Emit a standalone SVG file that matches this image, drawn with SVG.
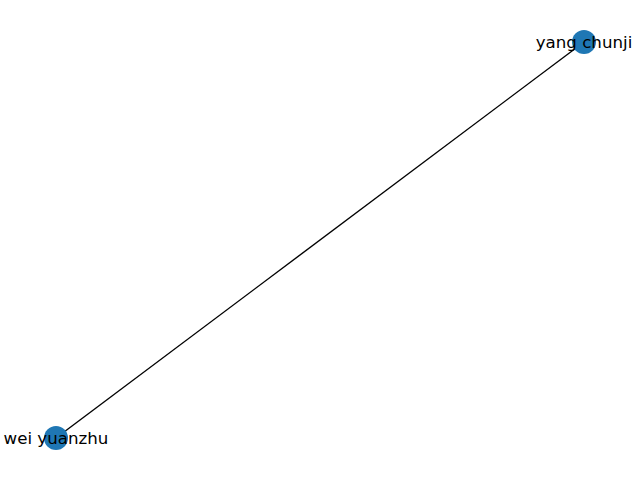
<svg xmlns="http://www.w3.org/2000/svg" width="640" height="480" viewBox="0 0 640 480">
<style>
.node{fill:#1f77b4}
.lbl{font-family:"DejaVu Sans",sans-serif;font-size:16.67px;fill:#000;text-anchor:middle;dominant-baseline:central}
.edge{stroke:#000;stroke-width:1.39;fill:none}
</style>
<rect width="640" height="480" fill="#fff"/>
<g id="edges">
<line class="edge" x1="56" y1="438" x2="584" y2="42"/>
</g>
<g id="node-yang-chunji">
<circle class="node" cx="584" cy="42" r="12"/>
<text class="lbl" x="584" y="42">yang chunji</text>
</g>
<g id="node-wei-yuanzhu">
<circle class="node" cx="56" cy="438" r="12"/>
<text class="lbl" x="56" y="438">wei yuanzhu</text>
</g>
</svg>
